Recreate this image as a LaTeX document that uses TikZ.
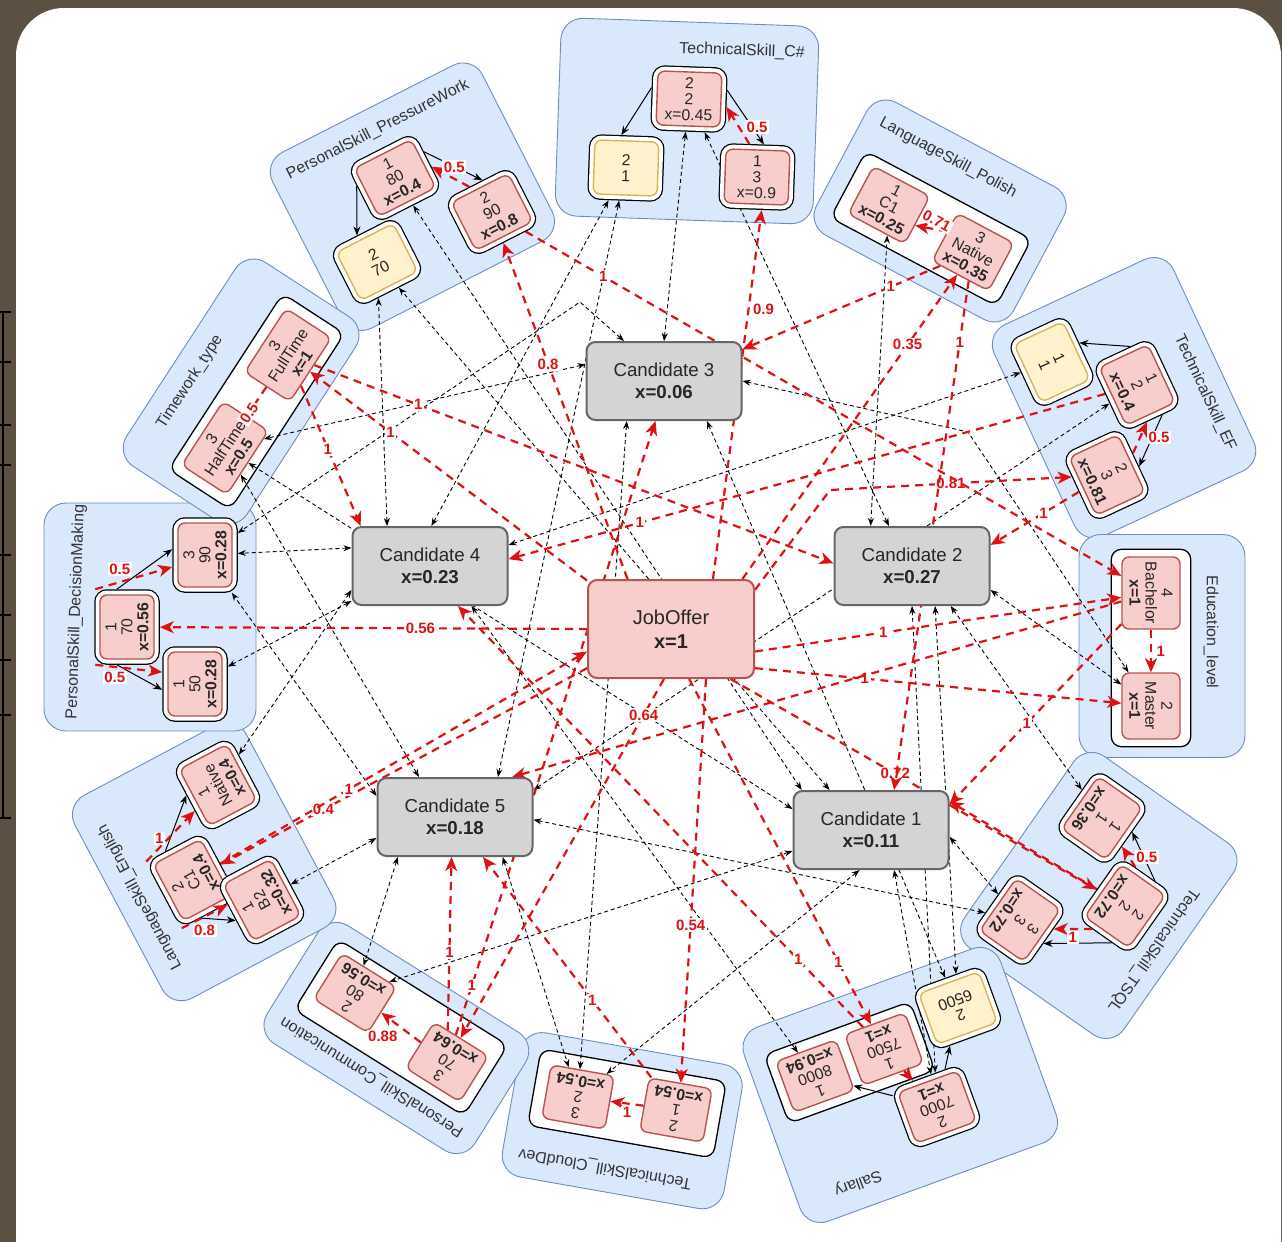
\documentclass[tikz,border=0pt]{standalone}
\usepackage{fontspec}
\setmainfont{Liberation Sans}
\usetikzlibrary{arrows.meta,fit,calc}
\pgfdeclarelayer{kl}\pgfdeclarelayer{bg}\pgfdeclarelayer{edges}\pgfdeclarelayer{fg}
\pgfsetlayers{kl,bg,edges,main,fg}
\definecolor{brownc}{RGB}{92,80,66}
\definecolor{clusf}{HTML}{DAE8FC}
\definecolor{clusd}{HTML}{6C8EBF}
\definecolor{pinkf}{HTML}{F8CECC}
\definecolor{pinkd}{HTML}{B85450}
\definecolor{yelf}{HTML}{FFF2CC}
\definecolor{yeld}{HTML}{D6B656}
\definecolor{candf}{RGB}{212,212,212}
\definecolor{candd}{HTML}{666666}
\definecolor{redc}{RGB}{222,18,18}
\begin{document}
\begin{tikzpicture}[x=1pt,y=1pt,
  clus/.style={rectangle, rounded corners=22pt, draw=clusd, fill=clusf, line width=0.9pt},
  clab/.style={font=\fontsize{16}{18}\selectfont, text=black!80, inner sep=0pt},
  cont/.style={rectangle, rounded corners=10pt, draw=black, fill=white, line width=1.3pt},
  vbase/.style={rectangle, rounded corners=7pt, line width=1.4pt, minimum width=64pt, minimum height=54pt,
     inner sep=1pt, align=center, text=black!85, font=\fontsize{15.8}{16}\selectfont},
  framed/.style={outer sep=5.8pt, preaction={draw=black, line width=11.5pt}, preaction={draw=white, line width=9pt}},
  val/.style={vbase, framed, fill=pinkf, draw=pinkd},
  yel/.style={vbase, framed, fill=yelf, draw=yeld},
  valin/.style={vbase, fill=pinkf, draw=pinkd},
  cand/.style={rectangle, rounded corners=9pt, fill=candf, draw=candd, line width=2pt, minimum width=155pt,
     minimum height=78pt, align=center, text=black!85, font=\fontsize{18.7}{22.5}\selectfont},
  jobof/.style={cand, fill=pinkf, draw=pinkd, minimum width=166pt, minimum height=98pt,
     font=\fontsize{20}{24}\selectfont},
  bd/.style={draw=black, line width=0.9pt, dash pattern=on 4pt off 3pt,
     {Stealth[length=8pt,width=6pt]}-{Stealth[length=8pt,width=6pt]}},
  rd/.style={draw=redc, line width=2.2pt, dash pattern=on 8pt off 6pt, -{Stealth[length=14pt,width=12pt,inset=4pt]}},
  sb/.style={draw=black, line width=1pt, -{Stealth[length=9pt,width=7pt]}},
  lab/.style={fill=white, text=redc, font=\fontsize{15}{16}\selectfont\bfseries, inner sep=1.5pt},
]
\useasboundingbox (0,0) rectangle (1282,-1242);

% ---------- page frame ----------
\begin{pgfonlayer}{kl}
\fill[brownc] (0,0) rectangle (1282,-1242);
\fill[white, rounded corners=48pt] (16,-8) rectangle (1281,-1290);
\draw[black, line width=1.5pt] (3,-312) -- (3,-818);
\foreach \ty in {312,362,425,465,555,615,660,715,818}
  \draw[black, line width=1.2pt] (0,-\ty) -- (11,-\ty);
\end{pgfonlayer}

% ---------- value nodes ----------
% TechnicalSkill_C#
\node[val, rotate=-2] (cA) at (689,-99) {2\\2\\x=0.45};
\node[yel, rotate=-2] (cY) at (626,-168) {2\\1};
\node[val, rotate=-2] (cB) at (757,-177) {1\\3\\x=0.9};
% PersonalSkill_PressureWork
\node[val, rotate=27] (pA) at (395,-178) {1\\80\\\textbf{x=0.4}};
\node[val, rotate=27] (pB) at (492,-212) {2\\90\\\textbf{x=0.8}};
\node[yel, rotate=27] (pY) at (377,-262) {2\\70};
% LanguageSkill_Polish
\node[valin, rotate=-28] (lA) at (889,-205) {1\\C1\\\textbf{x=0.25}};
\node[valin, rotate=-28] (lB) at (973,-252) {3\\Native\\\textbf{x=0.35}};
% TechnicalSkill_EF
\node[yel, rotate=-65] (eY) at (1052,-362) {1\\1};
\node[val, rotate=-65] (e1) at (1137,-385) {1\\2\\\textbf{x=0.4}};
\node[val, rotate=-65] (e2) at (1107,-475) {2\\3\\\textbf{x=0.81}};
% Education_level
\node[valin, rotate=-90, minimum width=72pt, minimum height=58pt] (uB) at (1151,-593) {4\\Bachelor\\\textbf{x=1}};
\node[valin, rotate=-90, minimum width=66pt, minimum height=58pt] (uM) at (1151,-706) {2\\Master\\\textbf{x=1}};
% TechnicalSkill_TSQL
\node[val, rotate=-125] (t1) at (1102,-818) {1\\1\\\textbf{x=0.36}};
\node[val, rotate=-125] (t2) at (1125,-906) {2\\2\\\textbf{x=0.72}};
\node[val, rotate=-125] (t3) at (1020,-920) {3\\3\\\textbf{x=0.72}};
% Sallary
\node[valin, rotate=-160] (s1) at (815,-1076) {1\\8000\\\textbf{x=0.94}};
\node[valin, rotate=-160] (s2) at (884,-1049) {1\\7500\\\textbf{x=1}};
\node[yel, rotate=-160] (sY) at (958,-1008) {2\\6500};
\node[val, rotate=-160] (s3) at (937,-1107) {2\\7000\\\textbf{x=1}};
% TechnicalSkill_CloudDev
\node[valin, rotate=170] (o1) at (578,-1097) {3\\2\\\textbf{x=0.54}};
\node[valin, rotate=170] (o2) at (676,-1110) {2\\1\\\textbf{x=0.54}};
% PersonalSkill_Communication
\node[valin, rotate=148] (m1) at (355,-993) {2\\80\\\textbf{x=0.56}};
\node[valin, rotate=148] (m2) at (447,-1062) {3\\70\\\textbf{x=0.64}};
% LanguageSkill_English
\node[val, rotate=118] (g1) at (218,-785) {1\\Native\\\textbf{x=0.4}};
\node[val, rotate=118] (g2) at (192,-880) {2\\C1\\\textbf{x=0.4}};
\node[val, rotate=118] (g3) at (262,-900) {1\\B2\\\textbf{x=0.32}};
% PersonalSkill_DecisionMaking
\node[val, rotate=90] (h1) at (205,-555) {3\\90\\\textbf{x=0.28}};
\node[val, rotate=90] (h2) at (127,-627) {1\\70\\\textbf{x=0.56}};
\node[val, rotate=90] (h3) at (195,-684) {1\\50\\\textbf{x=0.28}};
% Timework_type
\node[valin, rotate=57, minimum width=76pt] (w1) at (288,-355) {3\\FullTime\\\textbf{x=1}};
\node[valin, rotate=57, minimum width=76pt] (w2) at (225,-448) {3\\HalfTime\\\textbf{x=0.5}};

% ---------- candidates and job offer ----------
\node[cand] (n3) at (664,-381) {Candidate 3\\\textbf{x=0.06}};
\node[cand] (n4) at (430,-566) {Candidate 4\\\textbf{x=0.23}};
\node[cand] (n2) at (912,-566) {Candidate 2\\\textbf{x=0.27}};
\node[jobof] (jo) at (671,-629) {JobOffer\\\textbf{x=1}};
\node[cand] (n5) at (455,-817) {Candidate 5\\\textbf{x=0.18}};
\node[cand] (n1) at (871,-830) {Candidate 1\\\textbf{x=0.11}};

% ---------- group titles and containers ----------
\begin{pgfonlayer}{bg}
\node[clab, rotate=-2] (kcl) at (742,-51) {TechnicalSkill\_C\#};
\node[clab, rotate=27] (kpl) at (378,-130) {PersonalSkill\_PressureWork};
\node[clab, rotate=-28] (kll) at (948,-158) {LanguageSkill\_Polish};
\node[clab, rotate=-65] (kel) at (1205,-393) {TechnicalSkill\_EF};
\node[clab, rotate=-90] (kul) at (1211,-632) {Education\_level};
\node[clab, rotate=-125] (ktl) at (1153,-950) {TechnicalSkill\_TSQL};
\node[clab, rotate=-160] (ksl) at (858,-1183) {Sallary};
\node[clab, rotate=170] (kol) at (605,-1168) {TechnicalSkill\_CloudDev};
\node[clab, rotate=148] (kml) at (372,-1077) {PersonalSkill\_Communication};
\node[clab, rotate=118] (kgl) at (140,-897) {LanguageSkill\_English};
\node[clab, rotate=88] (khl) at (76,-612) {PersonalSkill\_DecisionMaking};
\node[clab, rotate=57] (kwl) at (190,-382) {Timework\_type};

\node[cont, rotate fit=-28, fit=(lA)(lB), inner xsep=13pt, inner ysep=9pt] (cl) {};
\node[cont, rotate fit=-90, fit=(uB)(uM), inner xsep=7pt, inner ysep=10pt] (cu) {};
\node[cont, rotate fit=-160, fit=(s1)(s2), inner xsep=8pt, inner ysep=8pt] (cs) {};
\node[cont, rotate fit=170, fit=(o1)(o2), inner xsep=12pt, inner ysep=9pt] (co) {};
\node[cont, rotate fit=148, fit=(m1)(m2), inner xsep=10pt, inner ysep=9pt] (cm) {};
\node[cont, rotate fit=57, fit=(w1)(w2), inner xsep=10pt, inner ysep=8pt] (cw) {};
\end{pgfonlayer}

\begin{pgfonlayer}{kl}
\node[clus, rotate=-2, minimum width=258pt, minimum height=198pt] (kc) at (687,-121) {};
\node[clus, rotate fit=27, fit=(kpl)(pA)(pB)(pY), inner sep=16pt] (kp) {};
\node[clus, rotate fit=-28, fit=(kll)(cl), inner sep=17pt] (kl) {};
\node[clus, rotate fit=-65, fit=(kel)(eY)(e1)(e2), inner sep=16pt] (ke) {};
\node[clus, rotate=-90, minimum width=223pt, minimum height=166pt] (ku) at (1162,-646) {};
\node[clus, rotate fit=-125, fit=(ktl)(t1)(t2)(t3), inner sep=14pt] (kt) {};
\node[clus, rotate fit=-160, fit=(ksl)(cs)(sY)(s3), inner sep=18pt] (ks) {};
\node[clus, rotate fit=170, fit=(kol)(co), inner sep=16pt] (ko) {};
\node[clus, rotate fit=148, fit=(kml)(cm), inner sep=16pt] (km) {};
\node[clus, rotate fit=118, fit=(kgl)(g1)(g2)(g3), inner sep=16pt] (kg) {};
\node[clus, rotate=90, minimum width=228pt, minimum height=212pt] (kh) at (150,-617) {};
\node[clus, rotate fit=57, fit=(kwl)(cw), inner sep=16pt] (kw) {};
\end{pgfonlayer}

% ---------- connectors ----------
\begin{pgfonlayer}{edges}
% value hierarchy inside the groups
\draw[sb] (cA.165) -- (cY.100);
\draw[sb] (cA.15) -- (cB.80);
\draw[sb] (pA.165) -- (pY.100);
\draw[sb] (pA.15) -- (pB.80);
\draw[sb] (e1.165) -- (eY.100);
\draw[sb] (e1.15) -- (e2.80);
\draw[sb] (t2.165) -- (t1.100);
\draw[sb] (t2.15) -- (t3.80);
\draw[sb] (s3) -- (s1);
\draw[sb] (s3) -- (sY);
\draw[sb] (g2.165) -- (g3.100);
\draw[sb] (g2.15) -- (g1.80);
\draw[sb] (h2.165) -- (h3.100);
\draw[sb] (h2.15) -- (h1.80);

% candidate values
\draw[bd] (n3.90) -- (cA);
\draw[bd] (n3.168) -- (w2);
\draw[bd] (n3.135) -- (580,-302) -- (h1);
\draw[bd] (n3.east) -- (968,-432) -- (uM);
\draw[bd] (n3.317) -- (sY);
\draw[bd] (n3.227) -- (o1);

\draw[bd] (n4.137) -- (pY);
\draw[bd] (n4.88) -- (cY);
\draw[bd] (n4.167) -- (h1);
\draw[bd] (n4.15) -- (eY);
\draw[bd] (n4.197) -- (g1);
\draw[bd] (n4.204) -- (h3);
\draw[bd] (n4.316) -- (s1);

\draw[bd] (n2.136) -- (lA);
\draw[bd] (n2.120) -- (cA);
\draw[bd] (n2.343) -- (uM);
\draw[bd] (n2.314) -- (t1);
\draw[bd] (n2.270) -- (s3);
\draw[bd] (n2.300) -- (sY);

\draw[bd] (n5.43) -- (cY);
\draw[bd] (n5.132) -- (w2);
\draw[bd] (n5.165) -- (h1);
\draw[bd] (n5.215) -- (m1);
\draw[bd] (n5.19) -- (e1);
\draw[bd] (n5.358) -- (t3);
\draw[bd] (n5.195) -- (g3);
\draw[bd] (n5.320) -- (o1);

\draw[bd] (n1.150) -- (pA);
\draw[bd] (n1.136) -- (pY);
\draw[bd] (n1.165) -- (w2);
\draw[bd] (n1.195) -- (m1);
\draw[bd] (n1.254) -- (o1);
\draw[bd] (n1.300) -- (s3);
\draw[bd] (n1.355) -- (t3);

% job offer requirements
\draw[rd] (jo.131) -- node[lab, pos=.64]{0.8} (pB);
\draw[rd] (jo.50) -- node[lab, pos=.73, right=2pt]{0.9} (cB.280);
\draw[rd] (jo.35) -- node[lab, pos=.77]{0.35} (lB);
\draw[rd] (jo.25) -- (830,-490) -- node[lab, pos=.5]{0.81} (e2);
\draw[rd] (jo.345) -- node[lab, pos=.35]{1} (uB);
\draw[rd] (jo.335) -- node[lab, pos=.3]{1} (uM);
\draw[rd] (jo.320) -- node[lab, pos=.45]{0.72} (t2);
\draw[rd] (jo.305) -- node[lab, pos=.61]{0.54} (o2.270);
\draw[rd] (jo.262) -- node[lab, pos=.1]{0.64} (m2);
\draw[rd] (jo.205) -- node[lab, pos=.72]{0.4} (g2);
\draw[rd] (jo.west) -- node[lab, pos=.39]{0.56} (h2);
\draw[rd] (jo.290) -- node[lab, pos=.82]{1} (s2);
\draw[rd] (jo.150) -- node[lab, pos=.71]{1} (w1);

% matched values feeding the candidates
\draw[rd] (w1) -- node[lab, pos=.45]{1} (n4.150);
\draw[rd] (w1) -- node[lab, pos=.2]{1} (n2.178);
\draw[rd] (lB) -- node[lab, pos=.25]{1} (n3.22);
\draw[rd] (lB) -- node[lab, pos=.12]{1} (n1.60);
\draw[rd] (pB) -- node[lab, pos=.13]{1} (uB);
\draw[rd] (e2) -- node[lab, pos=.4]{1} (n2.15);
\draw[rd] (e1) -- node[lab, pos=.78]{1} (n4.5);
\draw[rd] (uB) -- node[lab, pos=.55]{1} (n1.18);
\draw[rd] (m2) -- node[lab, pos=.45]{1} (n5.265);
\draw[rd] (o2) -- node[lab, pos=.35]{1} (n5.305);
\draw[rd] (g2) -- node[lab, pos=.35]{1} (jo.195);
\draw[rd] (m2) -- node[lab, pos=.08]{1} (n3.258);
\draw[rd] (s2) -- node[lab, pos=.16]{1} (n4.305);
\draw[rd] (t2) -- (n1.20);
\draw[rd] (uB) -- (n5.35);
\end{pgfonlayer}

% weighted links inside the groups
\begin{pgfonlayer}{fg}
\draw[rd] (cB.105) -- node[lab, pos=.45, right=5pt]{0.5} (cA.350);
\draw[rd] (pB.105) -- node[lab, pos=.4, above=4pt]{0.5} (pA.350);
\draw[rd] (lB.170) -- node[lab, rotate=-28, pos=.45, above=1pt]{0.71} (lA.350);
\draw[rd] (e2.105) -- node[lab, pos=.5, right=6pt]{0.5} (e1.350);
\draw[rd] (uB) -- node[lab, pos=.5, right=3pt]{1} (uM);
\draw[rd] (t2.200) -- node[lab, pos=.5, right=5pt]{0.5} (t1.70);
\draw[rd] (t2.340) -- node[lab, pos=.5, below=1pt]{1} (t3.110);
\draw[rd] (s2) -- (s3);
\draw[rd] (o2) -- node[lab, pos=.5, below=1pt]{1} (o1);
\draw[rd] (m2) -- node[lab, pos=.5, below left=1pt]{0.88} (m1);
\draw[rd] (g2.40) -- node[lab, pos=.45, left=2pt]{1} (g1.110);
\draw[rd] (g2.140) -- node[lab, pos=.5, below=6pt]{0.8} (g3.70);
\draw[rd] (h2.40) -- node[lab, pos=.5, above left=1pt]{0.5} (h1.110);
\draw[rd] (h2.140) -- node[lab, pos=.5, below left=1pt]{0.5} (h3.70);
\draw[rd] (w1) -- node[lab, rotate=57, pos=.35, left=6pt]{0.5} (w2);
\end{pgfonlayer}
\end{tikzpicture}
\end{document}
